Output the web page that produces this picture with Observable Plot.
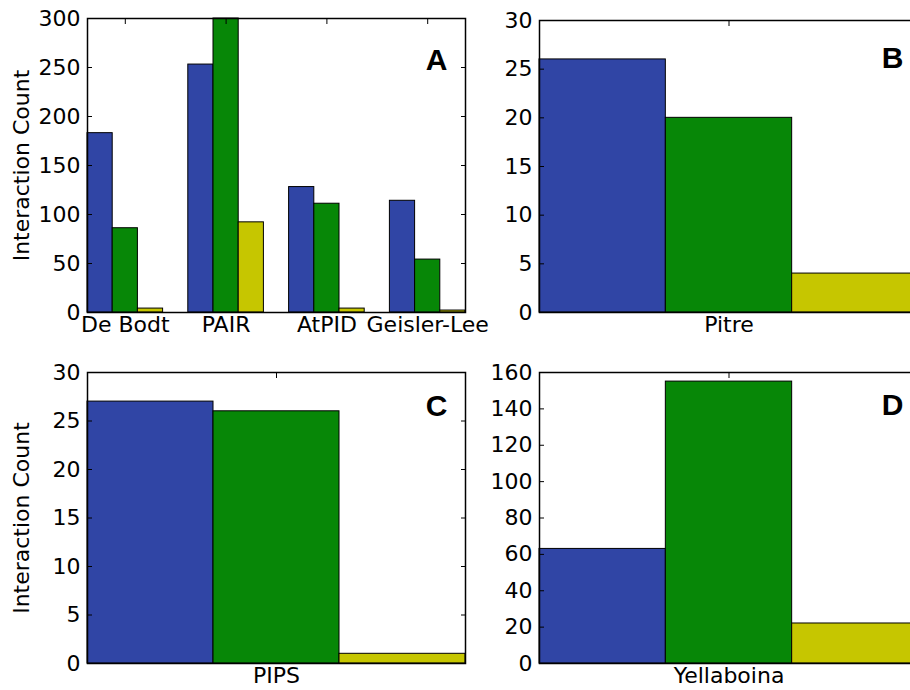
<!DOCTYPE html>
<html>
<head>
<meta charset="utf-8">
<script src="https://cdn.jsdelivr.net/npm/d3@7"></script>
<script src="https://cdn.jsdelivr.net/npm/@observablehq/plot@0.6"></script>
<style>
  html, body { margin: 0; padding: 0; background: #fff; overflow: hidden; }
  #wrap { position: relative; width: 910px; height: 690px; overflow: hidden; background: #fff; }
  .panel { position: absolute; }
  .panel svg { overflow: visible; max-width: none !important; display: block; }
</style>
</head>
<body>
<div id="wrap"></div>
<script>
// ---- data ----
const seriesNames = ["Set 1", "Set 2", "Set 3"];
const seriesColors = ["#3045a5", "#078707", "#c6c600"];

const groupsA = ["De Bodt", "PAIR", "AtPID", "Geisler-Lee"];
const set1A = [183, 253, 128, 114];
const set2A = [86, 300, 111, 54];
const set3A = [4, 92, 4, 2];

const groupsB = ["Pitre"];
const set1B = [26];
const set2B = [20];
const set3B = [4];

const groupsC = ["PIPS"];
const set1C = [27];
const set2C = [26];
const set3C = [1];

const groupsD = ["Yellaboina"];
const set1D = [63];
const set2D = [155];
const set3D = [22];

const yTicksA = [0, 50, 100, 150, 200, 250, 300];
const yTicksB = [0, 5, 10, 15, 20, 25, 30];
const yTicksC = [0, 5, 10, 15, 20, 25, 30];
const yTicksD = [0, 20, 40, 60, 80, 100, 120, 140, 160];

const barWidth = 0.25;
const yLabel = "Interaction Count";

function rowsOf(groups, sets) {
  return groups.flatMap((g, gi) => sets.map((vals, si) => ({
    group: g, series: seriesNames[si], gi, si, value: vals[gi]
  })));
}

function panel({groups, sets, yTicks, letter, left, top, width, height, margins, letterDx, letterDy, showYLabel}) {
  const rows = rowsOf(groups, sets);
  const centers = groups.map((g, i) => i + 1.5 * barWidth);
  const xMax = groups.length - 1 + sets.length * barWidth;
  const marks = [
    Plot.rectY(rows, {
      x1: d => d.gi + d.si * barWidth,
      x2: d => d.gi + (d.si + 1) * barWidth,
      y: "value",
      fill: "series",
      stroke: "black",
      strokeWidth: 1
    }),
    Plot.axisY({anchor: "left", ticks: yTicks, tickSize: -5, tickPadding: 12, tickFormat: d => d, fontSize: 22, label: null}),
    Plot.axisY({anchor: "right", ticks: yTicks, tickSize: -5, tickFormat: () => "", label: null}),
    Plot.axisX({anchor: "top", ticks: centers, tickSize: -5, tickFormat: () => "", label: null}),
    Plot.axisX({anchor: "bottom", ticks: centers, tickSize: 0, tickPadding: 4, tickFormat: (d, i) => groups[i], fontSize: 22, label: null}),
    Plot.frame({stroke: "black", strokeWidth: 1.5}),
    Plot.text([letter], {frameAnchor: "top-right", text: d => d, textAnchor: "end", lineAnchor: "middle",
      dx: letterDx, dy: letterDy, fontSize: 30, fontWeight: "bold", fontFamily: "'Liberation Sans', Arial, sans-serif", fill: "black"})
  ];
  if (showYLabel) {
    marks.push(Plot.text([yLabel], {frameAnchor: "left", text: d => d, rotate: -90, textAnchor: "middle", dx: -66, fontSize: 22, fill: "black"}));
  }
  const chart = Plot.plot({
    width, height,
    marginLeft: margins[0], marginRight: margins[1], marginTop: margins[2], marginBottom: margins[3],
    style: {fontFamily: "'DejaVu Sans', sans-serif", fontSize: "22px", color: "black", background: "transparent", overflow: "visible"},
    x: {type: "linear", domain: [0, xMax], axis: null},
    y: {domain: [0, yTicks[yTicks.length - 1]], axis: null},
    color: {domain: seriesNames, range: seriesColors},
    marks
  });
  const div = document.createElement("div");
  div.className = "panel";
  div.style.left = left + "px";
  div.style.top = top + "px";
  div.style.width = width + "px";
  div.style.height = height + "px";
  div.appendChild(chart);
  document.getElementById("wrap").appendChild(div);
}

panel({groups: groupsA, sets: [set1A, set2A, set3A], yTicks: yTicksA, letter: "A",
  left: 0, top: 0, width: 470, height: 345, margins: [87, 5, 18, 33], letterDx: -18, letterDy: 42, showYLabel: true});
panel({groups: groupsB, sets: [set1B, set2B, set3B], yTicks: yTicksB, letter: "B",
  left: 470, top: 0, width: 450, height: 345, margins: [69, 2, 20, 33], letterDx: -15, letterDy: 38, showYLabel: false});
panel({groups: groupsC, sets: [set1C, set2C, set3C], yTicks: yTicksC, letter: "C",
  left: 0, top: 345, width: 470, height: 345, margins: [87, 5, 27, 27], letterDx: -18, letterDy: 34, showYLabel: true});
panel({groups: groupsD, sets: [set1D, set2D, set3D], yTicks: yTicksD, letter: "D",
  left: 470, top: 345, width: 450, height: 345, margins: [69, 2, 27, 27], letterDx: -15, letterDy: 33, showYLabel: false});
</script>
</body>
</html>
